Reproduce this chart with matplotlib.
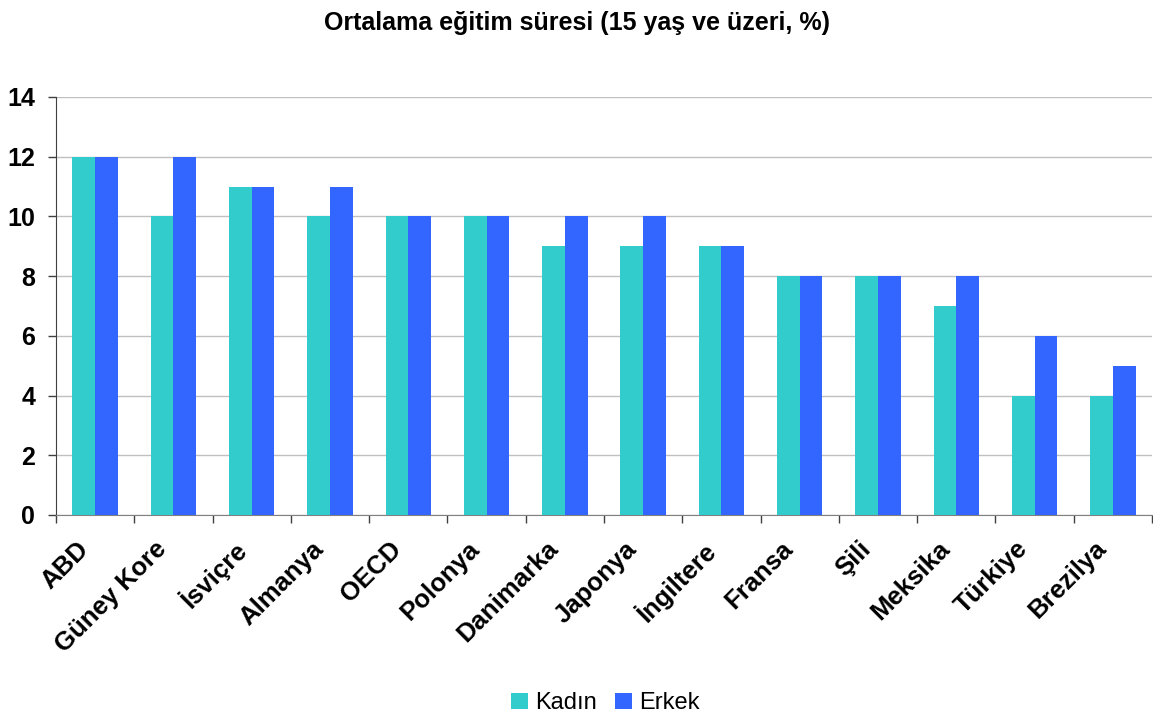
import numpy as np
import matplotlib
matplotlib.use('Agg')
import matplotlib.pyplot as plt
import matplotlib.transforms as mtransforms

# ==================== 数据 ====================

countries = ['ABD', 'Güney Kore', 'İsviçre', 'Almanya', 'OECD', 'Polonya', 'Danimarka',
             'Japonya', 'İngiltere', 'Fransa', 'Şili', 'Meksika', 'Türkiye', 'Brezilya']
kadin = [12, 10, 11, 10, 10, 10, 9, 9, 9, 8, 8, 7, 4, 4]
erkek = [12, 12, 11, 11, 10, 10, 10, 10, 9, 8, 8, 8, 6, 5]
yticks = [0, 2, 4, 6, 8, 10, 12, 14]

plt.rcParams['font.family'] = ['Liberation Sans', 'DejaVu Sans']

# ==================== 绘图 ====================

fig = plt.figure(figsize=(11.53, 7.28), dpi=100)
ax = fig.add_axes([0.0486, 0.2926, 0.9505, 0.5742])

x = np.arange(len(countries))
w = 0.29
ax.bar(x - w / 2, kadin, width=w, color='#33CCCC', label='Kadın', zorder=3)
ax.bar(x + w / 2, erkek, width=w, color='#3366FF', label='Erkek', zorder=3)

ax.set_xlim(-0.5, len(countries) - 0.5)
ax.set_ylim(0, 14)
ax.set_yticks(yticks)
ax.set_yticklabels([str(v) for v in yticks], fontsize=18, fontweight='bold')
ax.yaxis.grid(True, color='#c0c0c0', linewidth=1, zorder=0)
ax.tick_params(axis='y', length=6, width=1, color='#404040', pad=9)

ax.set_xticks(x)
ax.set_xticklabels(countries, fontsize=18.5, fontweight='bold', rotation=45,
                   ha='right', rotation_mode='anchor')
ax.tick_params(axis='x', which='major', length=0, pad=12)
ax.set_xticks(np.arange(-0.5, len(countries) - 0.4, 1), minor=True)
ax.tick_params(axis='x', which='minor', length=6, width=1, color='#404040')

# 标签整体向左下移动
offset = mtransforms.ScaledTranslation(-0.19, -0.05, fig.dpi_scale_trans)
for lbl in ax.get_xticklabels():
    lbl.set_transform(lbl.get_transform() + offset)

for s in ['top', 'right']:
    ax.spines[s].set_visible(False)
ax.spines['left'].set_color('#404040')
ax.spines['bottom'].set_color('#808080')

fig.suptitle('Ortalama eğitim süresi (15 yaş ve üzeri, %)', fontsize=18,
             fontweight='bold', y=0.985)

fig.legend(loc='lower center', bbox_to_anchor=(0.525, -0.01), ncol=2, frameon=False,
           fontsize=17, handlelength=0.7, handleheight=0.7, handletextpad=0.3,
           columnspacing=0.8)

plt.savefig('out.png', dpi=100)
plt.close()
